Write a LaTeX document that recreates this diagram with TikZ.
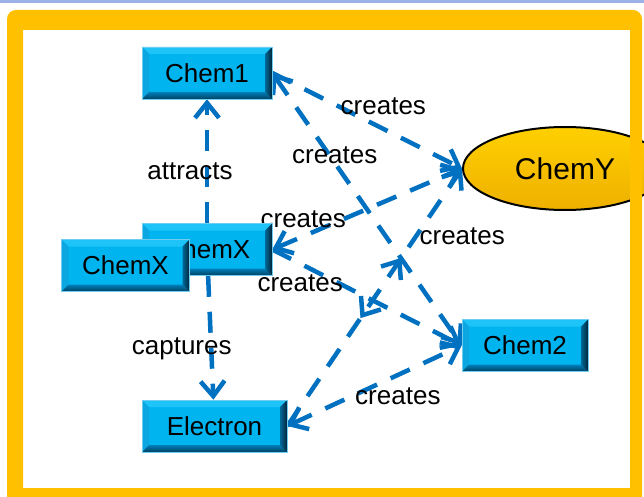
\documentclass[tikz,border=0pt]{standalone}
\usepackage{fontspec}
\setmainfont{Liberation Sans}
\usetikzlibrary{arrows.meta,shapes.geometric,decorations.markings}
\definecolor{boxface}{RGB}{0,180,240}
\definecolor{boxtop}{RGB}{30,196,248}
\definecolor{boxleft}{RGB}{12,166,224}
\definecolor{boxbot}{RGB}{0,118,176}
\definecolor{boxright}{RGB}{0,80,124}
\definecolor{boxrim}{RGB}{110,205,240}
\definecolor{linkblue}{RGB}{0,112,192}
\definecolor{frameyellow}{RGB}{255,192,0}
\definecolor{goldhi}{RGB}{255,208,0}
\definecolor{goldlo}{RGB}{238,176,0}
\definecolor{topband}{RGB}{158,178,232}
\pgfdeclarelayer{back}
\pgfsetlayers{back,main}
\begin{document}
\begin{tikzpicture}[x=1pt,y=-1pt,
  >={Straight Barb[length=15pt,width=24pt]},
  chembox/.style={rectangle, minimum height=52, inner sep=0pt, fill=boxface,
    draw=boxrim, line width=0.6pt, text=black, font=\fontsize{26}{30}\selectfont,
    path picture={
      \path (path picture bounding box.north west) coordinate (bnw)
            (path picture bounding box.north east) coordinate (bne)
            (path picture bounding box.south west) coordinate (bsw)
            (path picture bounding box.south east) coordinate (bse);
      \fill[boxtop] (bnw) -- (bne) -- ([shift={(-7,7)}]bne) -- ([shift={(7,7)}]bnw) -- cycle;
      \fill[boxleft] (bnw) -- (bsw) -- ([shift={(7,-7)}]bsw) -- ([shift={(7,7)}]bnw) -- cycle;
      \shade[top color=boxbot!85!boxface, bottom color=boxbot!55!black]
        (bsw) -- (bse) -- ([shift={(-7,-7)}]bse) -- ([shift={(7,-7)}]bsw) -- cycle;
      \shade[left color=boxright!75!boxface, right color=boxright!45!black]
        (bne) -- (bse) -- ([shift={(-7,-7)}]bse) -- ([shift={(-7,7)}]bne) -- cycle;
    }},
  goldnode/.style={ellipse, minimum width=204, minimum height=83, inner sep=0pt,
    draw=black, line width=2pt, top color=goldhi, middle color=goldhi, bottom color=goldlo,
    text=black, font=\fontsize{30}{34}\selectfont},
  link/.style={draw=linkblue, line width=4.5pt, dash pattern=on 21pt off 15pt, ->},
  lbl/.style={inner sep=0pt, text=black, font=\fontsize{26}{30}\selectfont},
  midheads/.style={postaction={decorate}, decoration={markings,
    mark=at position 0.486 with {\arrow{<}},
    mark=at position 0.653 with {\arrow{>}}}}
]
\path[use as bounding box, clip] (0,0) rectangle (644,497);

% concept boxes
\node[chembox, minimum width=130] (c1) at (207,73) {Chem1};
\node[chembox, minimum width=130] (xb) at (207,249.5) {ChemX};
\node[chembox, minimum width=128] (xf) at (125.5,265.5) {ChemX};
\node[chembox, minimum width=145] (el) at (214.5,426) {Electron};
\node[chembox, minimum width=126] (c2) at (525,345.5) {Chem2};
\node[goldnode] (cy) at (565,168.5) {ChemY};

% canvas and relations, kept behind the boxes
\begin{pgfonlayer}{back}
  \fill[white] (23,30) rectangle (630,488);
  \draw[link] (xb) -- (c1) node[lbl, pos=0.42, shift={(-17,0)}] {attracts};
  \draw[link] (xb) -- (el) node[lbl, pos=0.59, shift={(-29.5,0)}] {captures};
  \draw[link] (c1.east) -- (cy.west) node[lbl, pos=0.58, shift={(1,-22)}] {creates};
  \draw[link, <->] (c1.east) -- (c2.west) node[lbl, pos=0.30, shift={(5.6,0)}] {creates};
  \draw[link, <->] (xb.east) -- (cy.west) node[lbl, pos=0.163, shift={(0,-17)}] {creates};
  \draw[link] (xb.east) -- (c2.west) node[lbl, pos=0.147, shift={(0,19.5)}] {creates};
  \draw[link, midheads] (el.east) -- (cy.west) node[lbl, pos=0.738, shift={(46,0)}] {creates};
  \draw[link, <->] (el.east) -- (c2.west) node[lbl, pos=0.634, shift={(0,21)}] {creates};
\end{pgfonlayer}

% slide frame on top
\fill[topband] (0,0) rectangle (644,3);
\fill[frameyellow, even odd rule] [rounded corners=9] (7,10) rectangle (642,520)
  [sharp corners] (23,30) rectangle (630,488);
\end{tikzpicture}
\end{document}
